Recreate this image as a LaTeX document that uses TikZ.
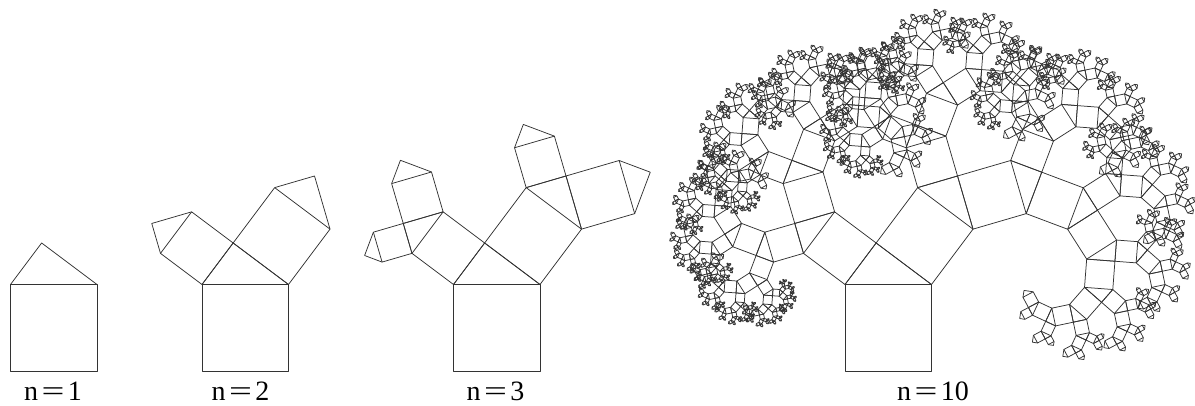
\documentclass[tikz,border=0pt]{standalone}
\usepackage{fontspec}
\usepackage{graphicx}
\setmainfont{Liberation Serif}
\tikzset{
  treeline/.style={draw=black!80, line width=0.75pt, line join=round},
  lbl/.style={font=\fontsize{28}{28}\selectfont, anchor=base, inner sep=0pt}
}
\newcommand\eqsign{\hspace{3.5pt}\scalebox{1.45}[1]{=}\hspace{3.5pt}}
\newcommand\pytree[5]{%
 \begingroup
 \pgfmathsetmacro\pyDX{#4-#2}%
 \pgfmathsetmacro\pyDY{#5-#3}%
 \pgfmathsetmacro\pyAX{#2-\pyDY}\pgfmathsetmacro\pyAY{#3+\pyDX}%
 \pgfmathsetmacro\pyBX{#4-\pyDY}\pgfmathsetmacro\pyBY{#5+\pyDX}%
 \pgfmathsetmacro\pyCX{\pyAX+0.36*\pyDX-0.48*\pyDY}%
 \pgfmathsetmacro\pyCY{\pyAY+0.36*\pyDY+0.48*\pyDX}%
 \draw[treeline] (#2,#3) -- (#4,#5) -- (\pyBX,\pyBY) -- (\pyAX,\pyAY) -- cycle;
 \draw[treeline] (\pyAX,\pyAY) -- (\pyCX,\pyCY) -- (\pyBX,\pyBY);
 \ifnum#1>1
   \pgfmathtruncatemacro\pyND{#1-1}%
   \edef\pyNext{\noexpand\pytree{\pyND}{\pyAX}{\pyAY}{\pyCX}{\pyCY}\noexpand\pytree{\pyND}{\pyCX}{\pyCY}{\pyBX}{\pyBY}}%
   \pyNext
 \fi
 \endgroup}
\begin{document}
\begin{tikzpicture}[x=1pt,y=1pt]
\path[use as bounding box] (0,0) rectangle (1195,405);
\clip (0,0) rectangle (1195,405);
\pytree{1}{10.5}{34}{97}{34}
\pytree{2}{202}{34}{288.5}{34}
\pytree{3}{453.5}{34}{540}{34}
\pytree{10}{845}{34}{931.5}{34}
\node[lbl] (l1) at (53,5) {n\eqsign 1};
\node[lbl] (l2) at (240.5,5) {n\eqsign 2};
\node[lbl] (l3) at (495.5,5) {n\eqsign 3};
\node[lbl] (l10) at (933,5) {n\eqsign 10};
\end{tikzpicture}
\end{document}
